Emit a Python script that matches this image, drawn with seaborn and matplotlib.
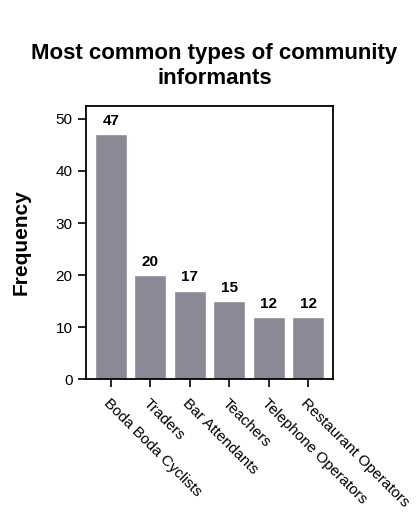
import pandas as pd
import matplotlib.pyplot as plt
import seaborn as sns

# Informant types and their counts
categories = ['Boda Boda Cyclists', 'Traders', 'Bar Attendants', 'Teachers',
              'Telephone Operators', 'Restaurant Operators']
counts = [47, 20, 17, 15, 12, 12]

df = pd.DataFrame({'Type': categories, 'Frequency': counts})

sns.set_style('ticks')
plt.rcParams['font.family'] = ['Liberation Sans', 'DejaVu Sans']
plt.rcParams['text.color'] = 'black'
plt.rcParams['axes.labelcolor'] = 'black'
plt.rcParams['xtick.color'] = 'black'
plt.rcParams['ytick.color'] = 'black'
plt.rcParams['axes.edgecolor'] = 'black'

fig, ax = plt.subplots(figsize=(4.19, 5.29), dpi=100)
sns.barplot(data=df, x='Type', y='Frequency', color='#8b8995',
            saturation=1, width=0.8, ax=ax)

for i, v in enumerate(counts):
    ax.text(i, v + 1.2, str(v), ha='center', va='bottom',
            fontsize=11, fontweight='bold')

ax.set_xlim(-0.63, 5.63)
ax.set_ylim(0, 52.5)
ax.set_yticks([0, 10, 20, 30, 40, 50])
ax.set_xlabel('')
ax.set_ylabel('Frequency', fontsize=15, fontweight='bold', labelpad=18)
ax.set_title('Most common types of community\ninformants', fontsize=16,
             fontweight='bold', pad=16, x=0.52)
ax.set_xticks(range(len(categories)))
ax.set_xticklabels(categories, rotation=-45, ha='left', rotation_mode='anchor',
                   fontsize=11)
ax.tick_params(axis='both', direction='out', length=6, width=1.2, labelsize=11)
ax.tick_params(axis='x', pad=6)
for s in ax.spines.values():
    s.set_linewidth(1.3)
    s.set_visible(True)

plt.subplots_adjust(left=0.205, right=0.795, top=0.80, bottom=0.283)
plt.savefig('out.png', dpi=100)
